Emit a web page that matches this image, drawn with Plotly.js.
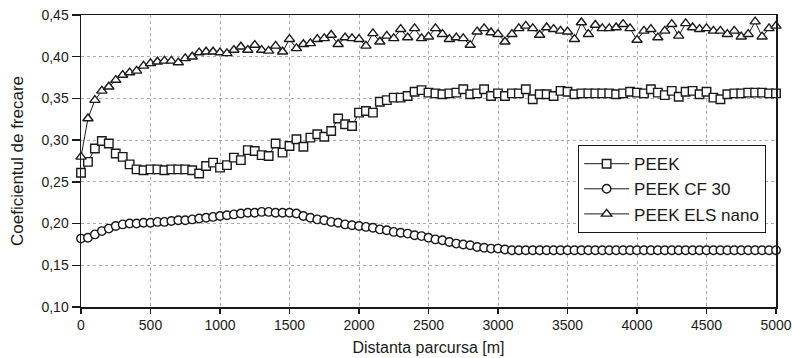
<!DOCTYPE html>
<html>
<head>
<meta charset="utf-8">
<script src="https://cdn.plot.ly/plotly-3.0.1.min.js"></script>
<style>html,body{margin:0;padding:0;background:#fff;}#chart{width:792px;height:358px;}</style>
</head>
<body>
<div id="chart"></div>
<script>
const distance = [
  0,50,100,150,200,250,300,350,400,450,
  500,550,600,650,700,750,800,850,900,950,
  1000,1050,1100,1150,1200,1250,1300,1350,1400,1450,
  1500,1550,1600,1650,1700,1750,1800,1850,1900,1950,
  2000,2050,2100,2150,2200,2250,2300,2350,2400,2450,
  2500,2550,2600,2650,2700,2750,2800,2850,2900,2950,
  3000,3050,3100,3150,3200,3250,3300,3350,3400,3450,
  3500,3550,3600,3650,3700,3750,3800,3850,3900,3950,
  4000,4050,4100,4150,4200,4250,4300,4350,4400,4450,
  4500,4550,4600,4650,4700,4750,4800,4850,4900,4950,
  5000
];
const peek = [
  0.261,0.274,0.290,0.299,0.296,0.284,0.280,0.271,0.265,0.264,
  0.265,0.265,0.264,0.265,0.265,0.265,0.264,0.260,0.269,0.273,
  0.267,0.270,0.279,0.276,0.288,0.287,0.282,0.281,0.296,0.285,
  0.293,0.301,0.292,0.303,0.307,0.304,0.311,0.326,0.319,0.317,
  0.333,0.335,0.333,0.346,0.348,0.351,0.351,0.353,0.358,0.360,
  0.357,0.356,0.355,0.356,0.357,0.361,0.355,0.356,0.361,0.353,
  0.356,0.353,0.356,0.356,0.361,0.349,0.355,0.355,0.353,0.359,
  0.358,0.355,0.356,0.356,0.356,0.356,0.356,0.355,0.356,0.358,
  0.357,0.356,0.361,0.357,0.354,0.359,0.352,0.358,0.359,0.355,
  0.358,0.351,0.349,0.355,0.356,0.356,0.357,0.357,0.357,0.356,
  0.356
];
const peekCF30 = [
  0.182,0.183,0.187,0.191,0.194,0.197,0.199,0.200,0.200,0.201,
  0.201,0.202,0.202,0.203,0.204,0.204,0.205,0.206,0.207,0.208,
  0.209,0.210,0.211,0.212,0.213,0.213,0.214,0.214,0.213,0.213,
  0.213,0.212,0.209,0.207,0.205,0.204,0.202,0.201,0.199,0.198,
  0.197,0.196,0.195,0.193,0.192,0.190,0.189,0.188,0.186,0.185,
  0.183,0.181,0.180,0.178,0.176,0.175,0.174,0.172,0.171,0.170,
  0.170,0.169,0.168,0.168,0.168,0.168,0.168,0.168,0.168,0.168,
  0.168,0.168,0.168,0.168,0.168,0.168,0.168,0.168,0.168,0.168,
  0.168,0.168,0.168,0.168,0.168,0.168,0.168,0.168,0.168,0.168,
  0.168,0.168,0.168,0.168,0.168,0.168,0.168,0.168,0.168,0.168,
  0.168
];
const peekELSnano = [
  0.280,0.326,0.348,0.359,0.364,0.372,0.378,0.381,0.383,0.389,
  0.392,0.394,0.395,0.395,0.393,0.398,0.400,0.405,0.406,0.406,
  0.405,0.404,0.408,0.412,0.408,0.414,0.408,0.407,0.413,0.406,
  0.421,0.410,0.415,0.416,0.421,0.422,0.426,0.415,0.423,0.422,
  0.421,0.413,0.428,0.418,0.425,0.422,0.433,0.423,0.434,0.422,
  0.424,0.434,0.427,0.421,0.423,0.422,0.414,0.430,0.434,0.429,
  0.427,0.418,0.427,0.434,0.437,0.434,0.426,0.435,0.433,0.431,
  0.430,0.421,0.441,0.427,0.438,0.434,0.434,0.435,0.439,0.434,
  0.420,0.431,0.433,0.423,0.431,0.439,0.425,0.440,0.435,0.433,
  0.434,0.431,0.431,0.427,0.431,0.424,0.427,0.442,0.424,0.434,
  0.437
];
const seriesNames = ["PEEK", "PEEK CF 30", "PEEK ELS nano"];
const xTickVals = [0,500,1000,1500,2000,2500,3000,3500,4000,4500,5000];
const yTickVals = [0.10,0.15,0.20,0.25,0.30,0.35,0.40,0.45];

const ink = '#1a1a1a';
function mk(y, name, symbol, size) {
  return {
    x: distance, y: y, name: name, type: 'scatter', mode: 'lines+markers',
    cliponaxis: false,
    line: {color: ink, width: 1},
    marker: {symbol: symbol, size: size, color: '#ffffff', line: {color: ink, width: 1.4}}
  };
}
const data = [
  mk(peek, seriesNames[0], 'square', 8.5),
  mk(peekCF30, seriesNames[1], 'circle', 8.5),
  mk(peekELSnano, seriesNames[2], 'triangle-up', 9)
];
const font = {family: '"Liberation Sans", Arial, sans-serif', color: ink};
const layout = {
  width: 792, height: 358,
  margin: {l: 81, r: 16, t: 15, b: 51},
  paper_bgcolor: '#ffffff', plot_bgcolor: '#ffffff',
  separators: ', ',
  font: Object.assign({size: 14}, font),
  showlegend: true,
  legend: {
    x: 0.715, y: 0.555, xanchor: 'left', yanchor: 'top',
    bgcolor: '#ffffff', bordercolor: ink, borderwidth: 1.2,
    font: Object.assign({size: 17}, font),
    itemwidth: 45,
    tracegroupgap: 0
  },
  xaxis: {
    range: [0, 5000], tickvals: xTickVals, tickformat: 'd',
    showgrid: true, gridcolor: '#ababab', griddash: 'dot', gridwidth: 1,
    showline: true, mirror: true, linecolor: ink, linewidth: 1.5,
    ticks: 'outside', ticklen: 5, tickcolor: ink, tickwidth: 1.5,
    tickfont: Object.assign({size: 14}, font),
    zeroline: false,
    title: {text: 'Distanta parcursa [m]', font: Object.assign({size: 16}, font), standoff: 9}
  },
  yaxis: {
    range: [0.10, 0.45], tickvals: yTickVals, tickformat: '.2f',
    showgrid: true, gridcolor: '#ababab', griddash: 'dot', gridwidth: 1,
    showline: true, mirror: true, linecolor: ink, linewidth: 1.5,
    ticks: 'outside', ticklen: 8, tickcolor: ink, tickwidth: 1.5,
    tickfont: Object.assign({size: 14}, font),
    zeroline: false,
    title: {text: 'Coeficientul de frecare', font: Object.assign({size: 17}, font), standoff: 13}
  }
};
Plotly.newPlot('chart', data, layout, {displayModeBar: false, staticPlot: true});
</script>
</body>
</html>
